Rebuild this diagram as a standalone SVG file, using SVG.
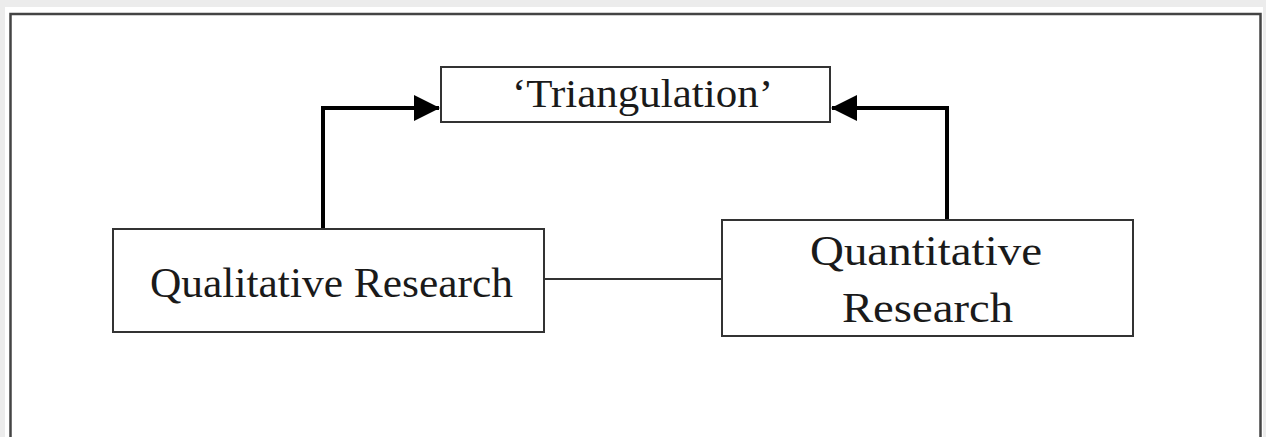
<svg xmlns="http://www.w3.org/2000/svg" width="1266" height="437" viewBox="0 0 1266 437">
<style>
.box{fill:#fff;stroke:#333;stroke-width:2}
.lbl{font-family:"Liberation Serif","Times New Roman",serif;fill:#1a1a1a;text-anchor:middle}
.arrow{fill:none;stroke:#000;stroke-width:4}
.link{fill:none;stroke:#333;stroke-width:2}
</style>
<defs>
<marker id="ah" markerUnits="userSpaceOnUse" markerWidth="26" markerHeight="26" refX="25" refY="13" orient="auto">
<path d="M0,0 L26,13 L0,26 Z" fill="#000"/>
</marker>
</defs>
<rect x="0" y="0" width="1266" height="437" fill="#ececec"/>
<rect x="5" y="7" width="1258" height="430" fill="#fff"/>
<path d="M10.5,440 V14 H1260.5 V440" fill="none" stroke="#444" stroke-width="2.5"/>
<g id="connectors">
<path class="arrow" d="M323,229 V108 H439" marker-end="url(#ah)"/>
<path class="arrow" d="M947,220 V108 H832" marker-end="url(#ah)"/>
<path class="link" d="M544,279 H722"/>
</g>
<g id="triangulation">
<rect class="box" x="441" y="67" width="389" height="55"/>
<text class="lbl" x="642.5" y="107" font-size="41" textLength="261" lengthAdjust="spacingAndGlyphs">‘Triangulation’</text>
</g>
<g id="qualitative">
<rect class="box" x="113" y="229" width="431" height="103"/>
<text class="lbl" x="331.5" y="297" font-size="43" textLength="363" lengthAdjust="spacingAndGlyphs">Qualitative Research</text>
</g>
<g id="quantitative">
<rect class="box" x="722" y="220" width="411" height="116"/>
<text class="lbl" x="926" y="265" font-size="43" textLength="232" lengthAdjust="spacingAndGlyphs">Quantitative</text>
<text class="lbl" x="927.5" y="322" font-size="43" textLength="171" lengthAdjust="spacingAndGlyphs">Research</text>
</g>
</svg>
